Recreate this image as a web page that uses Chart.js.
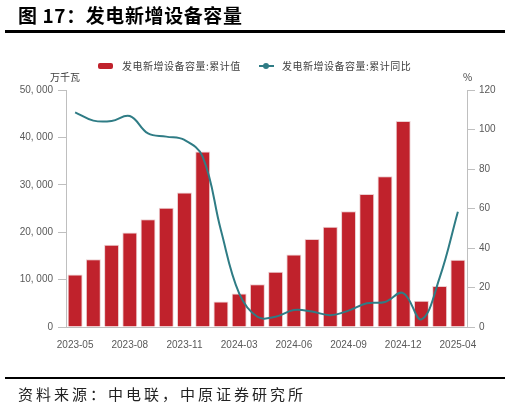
<!DOCTYPE html>
<html lang="zh-CN">
<head>
  <meta charset="UTF-8">
  <title>发电新增设备容量</title>
  <script src="https://cdn.jsdelivr.net/npm/chart.js"></script>
  <style>
    body {
      margin: 0;
      background: #fff;
      font-family: 'Noto Sans CJK SC', sans-serif;
    }

    .page {
      position: relative;
      width: 510px;
      height: 409px;
      overflow: hidden;
    }

    .title {
      position: absolute;
      left: 18px;
      top: 5px;
      font-size: 19px;
      line-height: 19px;
      font-weight: bold;
      letter-spacing: 0.6px;
      color: #000;
      white-space: nowrap;
    }

    .rule {
      position: absolute;
      left: 5px;
      width: 500px;
      background: #000;
    }

    .source {
      position: absolute;
      left: 18px;
      top: 386px;
      font-size: 15px;
      line-height: 16px;
      letter-spacing: 3px;
      color: #222;
      white-space: nowrap;
    }

    .legend {
      position: absolute;
      top: 60px;
      font-size: 10px;
      line-height: 12px;
      letter-spacing: 0.5px;
      color: #404040;
      white-space: nowrap;
    }

    .unit {
      position: absolute;
      top: 71px;
      font-size: 10px;
      line-height: 12px;
      color: #404040;
    }

    canvas {
      position: absolute;
      left: 0;
      top: 0;
    }
  </style>
</head>
<body>
  <div class="page">
    <canvas id="capChart" width="510" height="409"></canvas>

    <div class="title">图 17：发电新增设备容量</div>
    <div class="rule" style="top:30px;height:3px"></div>

    <!-- 图例 -->
    <span style="position:absolute;left:98px;top:63px;width:15px;height:6px;background:#c0222c;border-radius:2px"></span>
    <div class="legend" style="left:122px">发电新增设备容量:累计值</div>
    <span style="position:absolute;left:259px;top:65px;width:15px;height:2px;background:#2f7c85"></span>
    <span style="position:absolute;left:263px;top:63px;width:6px;height:6px;background:#2f7c85;border-radius:50%"></span>
    <div class="legend" style="left:282px">发电新增设备容量:累计同比</div>

    <div class="unit" style="left:50px">万千瓦</div>
    <div class="unit" style="left:463px">%</div>

    <div class="rule" style="top:377px;height:2px"></div>
    <div class="source">资料来源：中电联，中原证券研究所</div>
  </div>

  <script>
    // 月份（1-2月合并）
    const months = ['2023-05', '2023-06', '2023-07', '2023-08', '2023-09', '2023-10', '2023-11', '2023-12',
      '2024-02', '2024-03', '2024-04', '2024-05', '2024-06', '2024-07', '2024-08', '2024-09', '2024-10',
      '2024-11', '2024-12', '2025-02', '2025-03', '2025-04'];

    // 累计值，万千瓦
    const capacity = [11100, 14300, 17350, 19950, 22750, 25150, 28400, 37050,
      5370, 7050, 9000, 11650, 15270, 18580, 21170, 24400, 28060,
      31790, 43460, 5560, 8650, 14200];

    // 累计同比，%
    const yoy = [108.7, 104.5, 104.3, 106.8, 98, 96.4, 94.7, 86.2,
      49, 17, 5.2, 5.2, 8.6, 7.8, 6, 8.3, 12,
      12.7, 17.2, 3.9, 25, 58.4];

    const tickFont = { family: "'Liberation Sans', Arial, sans-serif", size: 10 };
    const grey = '#bfbfbf';

    new Chart(document.getElementById('capChart'), {
      data: {
        labels: months,
        datasets: [
          {
            type: 'line',
            label: '发电新增设备容量:累计同比',
            data: yoy,
            yAxisID: 'y1',
            borderColor: '#2f7c85',
            borderWidth: 2,
            pointRadius: 0,
            tension: 0.4,
            order: 0
          },
          {
            type: 'bar',
            label: '发电新增设备容量:累计值',
            data: capacity,
            yAxisID: 'y',
            backgroundColor: '#c0222c',
            borderColor: '#eccfd1',
            borderWidth: 1,
            categoryPercentage: 0.82,
            barPercentage: 1,
            order: 1
          }
        ]
      },
      options: {
        responsive: false,
        animation: false,
        layout: { padding: { top: 90, bottom: 0, left: 0, right: 0 } },
        plugins: {
          legend: { display: false },
          tooltip: { enabled: false }
        },
        scales: {
          x: {
            grid: { drawOnChartArea: false, drawTicks: false },
            border: { color: grey },
            ticks: {
              autoSkip: false,
              maxRotation: 0,
              padding: 12,
              color: '#595959',
              font: tickFont,
              callback: function (v, i) {
                return i % 3 === 0 ? months[i] : '';
              }
            },
            afterFit: function (scale) { scale.height = 82; }
          },
          y: {
            position: 'left',
            min: 0,
            max: 50000,
            grid: { drawOnChartArea: false, tickLength: 8, color: grey },
            border: { color: grey },
            ticks: {
              stepSize: 10000,
              padding: 5,
              color: '#595959',
              font: tickFont,
              callback: v => v.toLocaleString('en-US').replace(',', ', ')
            },
            afterFit: function (scale) { scale.width = 66; }
          },
          y1: {
            position: 'right',
            min: 0,
            max: 120,
            grid: { drawOnChartArea: false, tickLength: 8, color: grey },
            border: { color: grey },
            ticks: {
              stepSize: 20,
              padding: 4,
              color: '#595959',
              font: tickFont
            },
            afterFit: function (scale) { scale.width = 43; }
          }
        }
      }
    });
  </script>
</body>
</html>
